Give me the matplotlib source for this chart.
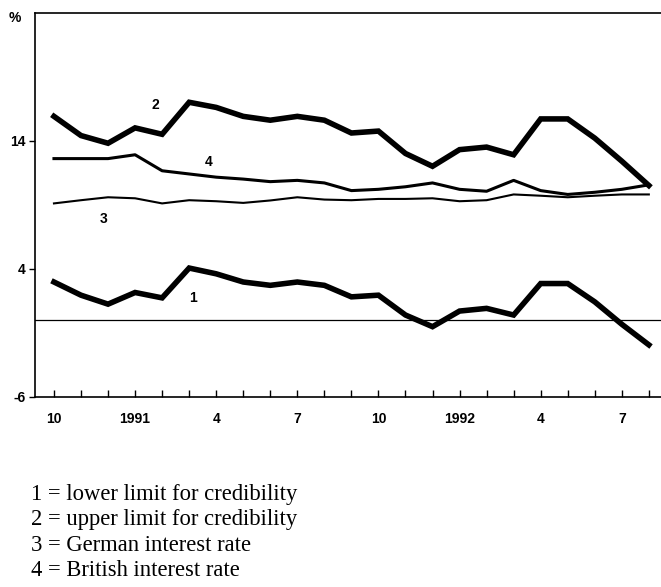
import matplotlib
matplotlib.use("Agg")
import matplotlib.pyplot as plt
import numpy as np

# monthly observations, Oct 1990 .. Aug 1992
months = np.arange(23)
lower = [2.96, 1.93, 1.23, 2.14, 1.72, 4.05, 3.6, 2.96, 2.7, 2.96, 2.7, 1.8,
         1.93, 0.38, -0.53, 0.69, 0.9, 0.38, 2.84, 2.84, 1.41, -0.34, -1.95]
upper = [15.9, 14.4, 13.8, 15.0, 14.5, 17.0, 16.6, 15.9, 15.6, 15.9, 15.6, 14.6,
         14.75, 13.0, 12.0, 13.3, 13.5, 12.9, 15.7, 15.7, 14.2, 12.4, 10.5]
german = [9.1, 9.35, 9.58, 9.5, 9.1, 9.35, 9.27, 9.14, 9.33, 9.58, 9.4, 9.35,
          9.45, 9.45, 9.5, 9.27, 9.35, 9.8, 9.7, 9.58, 9.7, 9.8, 9.8]
british = [12.6, 12.6, 12.6, 12.9, 11.65, 11.4, 11.15, 11.0, 10.8, 10.9, 10.7, 10.1,
           10.2, 10.4, 10.7, 10.2, 10.05, 10.9, 10.1, 9.8, 9.97, 10.2, 10.55]

tick_pos = [0, 3, 6, 9, 12, 15, 18, 21]
tick_labels = ["10", "1991", "4", "7", "10", "1992", "4", "7"]

legend_lines = ["1 = lower limit for credibility",
                "2 = upper limit for credibility",
                "3 = German interest rate",
                "4 = British interest rate"]

fig = plt.figure(figsize=(6.61, 5.87), dpi=100)
ax = fig.add_axes([0.053, 0.3242, 0.947, 0.6542])

ax.axhline(0, color="black", lw=0.9)
ax.plot(months, upper, color="black", lw=4.0, solid_joinstyle="miter")
ax.plot(months, lower, color="black", lw=4.0, solid_joinstyle="miter")
ax.plot(months, british, color="black", lw=2.2)
ax.plot(months, german, color="black", lw=1.5)

ax.set_xlim(-0.7, 22.45)
ax.set_ylim(-6, 24)
ax.spines["right"].set_visible(False)
for s in ["left", "top", "bottom"]:
    ax.spines[s].set_linewidth(1.2)

ax.set_xticks(months, minor=True)
ax.set_xticks(tick_pos)
ax.set_xticklabels(tick_labels, fontsize=10, fontweight="bold",
                   family="Liberation Sans")
ax.tick_params(axis="x", which="both", direction="in", length=5, width=1, pad=11)
ax.set_yticks([-6, 4, 14])
ax.set_yticklabels(["-6", "4", "14"], fontsize=10, fontweight="bold",
                   family="Liberation Sans")
ax.tick_params(axis="y", direction="out", length=4, width=1, pad=3)

lab_kw = dict(fontsize=10, fontweight="bold", family="Liberation Sans",
              ha="center", va="center")
ax.text(3.73, 16.8, "2", **lab_kw)
ax.text(5.73, 12.37, "4", **lab_kw)
ax.text(1.85, 7.88, "3", **lab_kw)
ax.text(5.14, 1.7, "1", **lab_kw)
fig.text(15 / 661, 1 - 18 / 587, "%", fontsize=10, fontweight="bold",
         family="Liberation Sans", ha="center", va="center")

for i, line in enumerate(legend_lines):
    fig.text(31 / 661, 1 - (500 + 25.5 * i) / 587, line, fontsize=16.3,
             family="Liberation Serif", ha="left", va="baseline")

fig.savefig("out.png", dpi=100)
